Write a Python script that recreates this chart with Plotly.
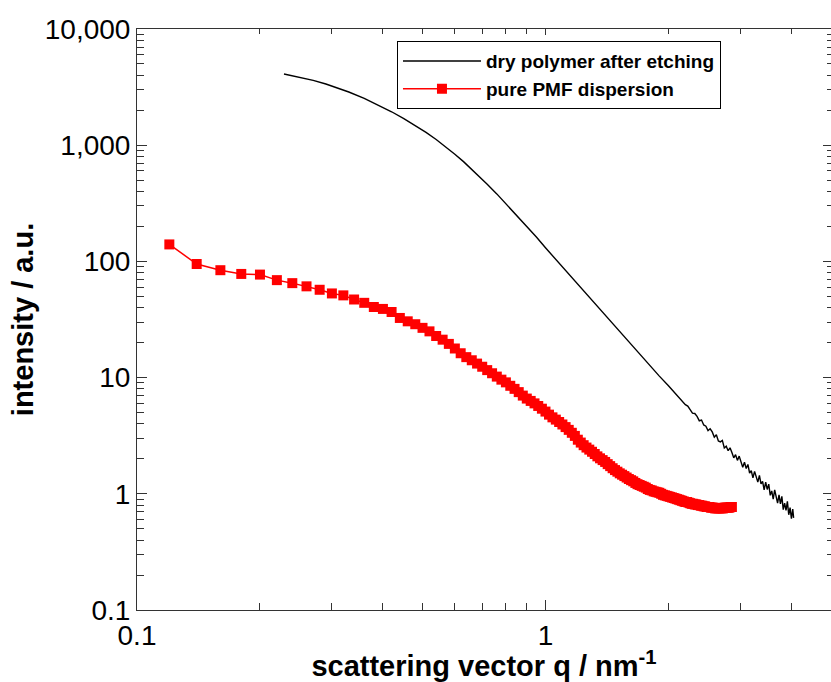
import math
import plotly.graph_objects as go

# ---------------- data ----------------
dry_q = [0.229, 0.25, 0.27, 0.29, 0.31, 0.33, 0.36, 0.39, 0.42, 0.45, 0.48, 0.51,
         0.54, 0.57, 0.60, 0.63, 0.66, 0.69, 0.72, 0.76, 0.80, 0.85, 0.90, 0.95,
         1.00, 1.05, 1.10, 1.15, 1.20, 1.30, 1.40, 1.50, 1.60, 1.70, 1.80, 1.90,
         2.00, 2.05, 2.10, 2.15,
         2.20, 2.23, 2.26, 2.29, 2.32, 2.35, 2.38, 2.41, 2.44, 2.47, 2.50, 2.53,
         2.56, 2.59, 2.62, 2.65, 2.68, 2.71, 2.74, 2.77, 2.80, 2.83, 2.86, 2.89,
         2.92, 2.95, 2.98, 3.01, 3.04, 3.07, 3.10, 3.13, 3.16, 3.19, 3.22, 3.25,
         3.28, 3.31, 3.34, 3.37, 3.40, 3.43, 3.46, 3.49, 3.52, 3.55, 3.58, 3.61,
         3.64, 3.67, 3.70, 3.73, 3.76, 3.79, 3.82, 3.85, 3.88, 3.91, 3.94, 3.97,
         4.00, 4.03, 4.05]
dry_I = [4100, 3860, 3610, 3360, 3110, 2870, 2530, 2215, 1940, 1695, 1480, 1290,
         1120, 967, 836, 722, 622, 535, 462, 381, 314, 250, 200, 162,
         131, 108, 89.5, 74.9, 63.2, 45.9, 34.1, 25.9, 20.0, 15.7, 12.6, 10.3,
         8.52, 7.75, 7.05, 6.50,
         5.85, 5.68, 5.25, 4.95, 4.91, 4.64, 4.25, 4.31, 3.91, 3.82, 3.50, 3.63,
         3.41, 3.07, 3.22, 2.85, 2.80, 2.88, 2.48, 2.57, 2.35, 2.49, 2.27, 2.04,
         2.17, 1.94, 2.11, 1.84, 1.69, 1.87, 1.65, 1.79, 1.51, 1.58, 1.37, 1.56,
         1.39, 1.26, 1.44, 1.22, 1.28, 1.08, 1.26, 1.09, 1.21, 0.97, 1.06, 0.90,
         1.08, 0.92, 0.83, 0.98, 0.82, 0.95, 0.73, 0.83, 0.72, 0.86, 0.66, 0.76,
         0.61, 0.74, 0.62]

pmf_q = [0.12, 0.14, 0.16, 0.18, 0.20, 0.22, 0.24, 0.26, 0.28, 0.30, 0.32, 0.34,
         0.36, 0.38, 0.40, 0.42, 0.44, 0.46, 0.48, 0.50, 0.52, 0.54, 0.56, 0.58,
         0.60, 0.62, 0.64, 0.66, 0.68, 0.70, 0.72, 0.74, 0.76, 0.78, 0.80, 0.82,
         0.84, 0.86, 0.88, 0.90, 0.92, 0.94, 0.96, 0.98, 1.00, 1.02, 1.04, 1.06,
         1.08, 1.10, 1.12, 1.14, 1.16, 1.18, 1.20, 1.22, 1.24, 1.26, 1.28, 1.30,
         1.32, 1.34, 1.36, 1.38, 1.40, 1.42, 1.44, 1.46, 1.48, 1.50, 1.52, 1.54,
         1.56, 1.58, 1.60, 1.62, 1.64, 1.66, 1.68, 1.70, 1.72, 1.74, 1.76, 1.78,
         1.80, 1.82, 1.84, 1.86, 1.88, 1.90, 1.92, 1.94, 1.96, 1.98, 2.00, 2.02,
         2.04, 2.06, 2.08, 2.10, 2.12, 2.14, 2.16, 2.18, 2.20, 2.22, 2.24, 2.26,
         2.28, 2.30, 2.32, 2.34, 2.36, 2.38, 2.40, 2.42, 2.44, 2.46, 2.48, 2.50,
         2.52, 2.54, 2.56, 2.58, 2.60, 2.62, 2.64, 2.66, 2.68, 2.70, 2.72, 2.74,
         2.76, 2.78, 2.80, 2.82, 2.84, 2.86]
pmf_I = [140, 95, 84, 78, 77, 69, 65, 61, 57, 53, 51, 47,
         44, 40.5, 39, 36.7, 32.6, 30.5, 28.8, 26.8, 25.0, 22.8, 21.2, 19.5,
         17.8, 16.2, 15.0, 14.1, 13.2, 12.4, 11.6, 10.9, 10.2, 9.6, 9.1, 8.5,
         8.0, 7.5, 7.0, 6.6, 6.3, 6.0, 5.7, 5.4, 5.1, 4.8, 4.55, 4.35,
         4.15, 3.95, 3.75, 3.55, 3.35, 3.15, 2.92, 2.76, 2.62, 2.50, 2.40, 2.30,
         2.20, 2.10, 2.02, 1.95, 1.88, 1.80, 1.73, 1.66, 1.60, 1.55, 1.50, 1.46,
         1.42, 1.38, 1.34, 1.31, 1.28, 1.24, 1.21, 1.19, 1.17, 1.15, 1.13, 1.10,
         1.08, 1.07, 1.05, 1.04, 1.03, 1.02, 1.00, 0.98, 0.97, 0.96, 0.95, 0.94,
         0.93, 0.92, 0.91, 0.90, 0.89, 0.88, 0.87, 0.86, 0.85, 0.85, 0.84, 0.83,
         0.82, 0.82, 0.81, 0.81, 0.80, 0.80, 0.79, 0.79, 0.78, 0.78, 0.77, 0.77,
         0.77, 0.76, 0.76, 0.76, 0.75, 0.75, 0.75, 0.75, 0.75, 0.75, 0.75, 0.76,
         0.76, 0.76, 0.76, 0.76, 0.77, 0.77]

x_tickvals = [0.1, 1]
x_ticktext = ["0.1", "1"]
y_tickvals = [0.1, 1, 10, 100, 1000, 10000]
y_ticktext = ["0.1", "1", "10", "100", "1,000", "10,000"]

# ---------------- figure ----------------
x_minor = [m * 10 ** e for e in (-1, 0) for m in range(2, 10)]
y_minor = [m * 10 ** e for e in (-1, 0, 1, 2, 3) for m in range(2, 10)]
AX = "#333333"
TICKFONT = dict(family="Arial, Liberation Sans, sans-serif", size=28, color="black")
TITLEFONT = dict(family="Arial, Liberation Sans, sans-serif", size=29, color="black", weight="bold")

fig = go.Figure()
fig.add_trace(go.Scatter(x=dry_q, y=dry_I, mode="lines", name="dry polymer after etching",
                         line=dict(color="black", width=1.4)))
fig.add_trace(go.Scatter(x=pmf_q, y=pmf_I, mode="lines+markers", name="pure PMF dispersion",
                         line=dict(color="#ff0000", width=1.5),
                         marker=dict(symbol="square", size=10, color="#ff0000")))
# invisible trace to host the mirrored (top/right) tick axes
fig.add_trace(go.Scatter(x=[1], y=[1], xaxis="x2", yaxis="y2", mode="markers",
                         marker=dict(opacity=0), showlegend=False, hoverinfo="skip"))

xr = [math.log10(0.1), math.log10(5)]
yr = [math.log10(0.1), math.log10(10000)]

fig.update_layout(
    width=831, height=682,
    margin=dict(l=137, r=0, t=29, b=72),
    paper_bgcolor="white", plot_bgcolor="white",
    showlegend=True,
    legend=dict(x=0.3746, y=0.979, xanchor="left", yanchor="top",
                bgcolor="white", bordercolor="black", borderwidth=1,
                font=dict(family="Arial, Liberation Sans, sans-serif", size=19,
                          color="black", weight="bold"),
                itemwidth=78, tracegroupgap=0),
    xaxis=dict(type="log", range=xr, showline=True, linecolor=AX, linewidth=1,
               mirror=True, ticks="inside", ticklen=10, tickwidth=1, tickcolor=AX,
               tickmode="array", tickvals=x_tickvals, ticktext=x_ticktext,
               tickfont=TICKFONT, showgrid=False, zeroline=False,
               minor=dict(tickmode="array", tickvals=x_minor, ticks="inside",
                          ticklen=7, tickcolor=AX, showgrid=False),
               title=dict(text="scattering vector q / nm<sup>-1</sup>", font=TITLEFONT,
                          standoff=8)),
    yaxis=dict(type="log", range=yr, showline=True, linecolor=AX, linewidth=1,
               mirror=False, ticks="inside", ticklen=10, tickwidth=1, tickcolor=AX,
               tickmode="array", tickvals=y_tickvals, ticktext=y_ticktext,
               tickfont=TICKFONT, showgrid=False, zeroline=False,
               minor=dict(tickmode="array", tickvals=y_minor, ticks="inside",
                          ticklen=7, tickcolor=AX, showgrid=False),
               title=dict(text="intensity / a.u.", font=TITLEFONT, standoff=2)),
    xaxis2=dict(type="log", range=xr, overlaying="x", side="top", anchor="y2",
                showline=False, ticks="inside", ticklen=6, tickcolor=AX,
                tickmode="array", tickvals=x_tickvals, showticklabels=False,
                showgrid=False, zeroline=False,
                minor=dict(tickmode="array", tickvals=x_minor, ticks="inside",
                           ticklen=5, tickcolor=AX, showgrid=False)),
    yaxis2=dict(type="log", range=yr, overlaying="y", side="right", anchor="x2",
                showline=False, ticks="inside", ticklen=8, tickcolor=AX,
                tickmode="array", tickvals=y_tickvals, showticklabels=False,
                showgrid=False, zeroline=False,
                minor=dict(tickmode="array", tickvals=y_minor, ticks="inside",
                           ticklen=4, tickcolor=AX, showgrid=False)),
)

fig.write_html("out.html")
